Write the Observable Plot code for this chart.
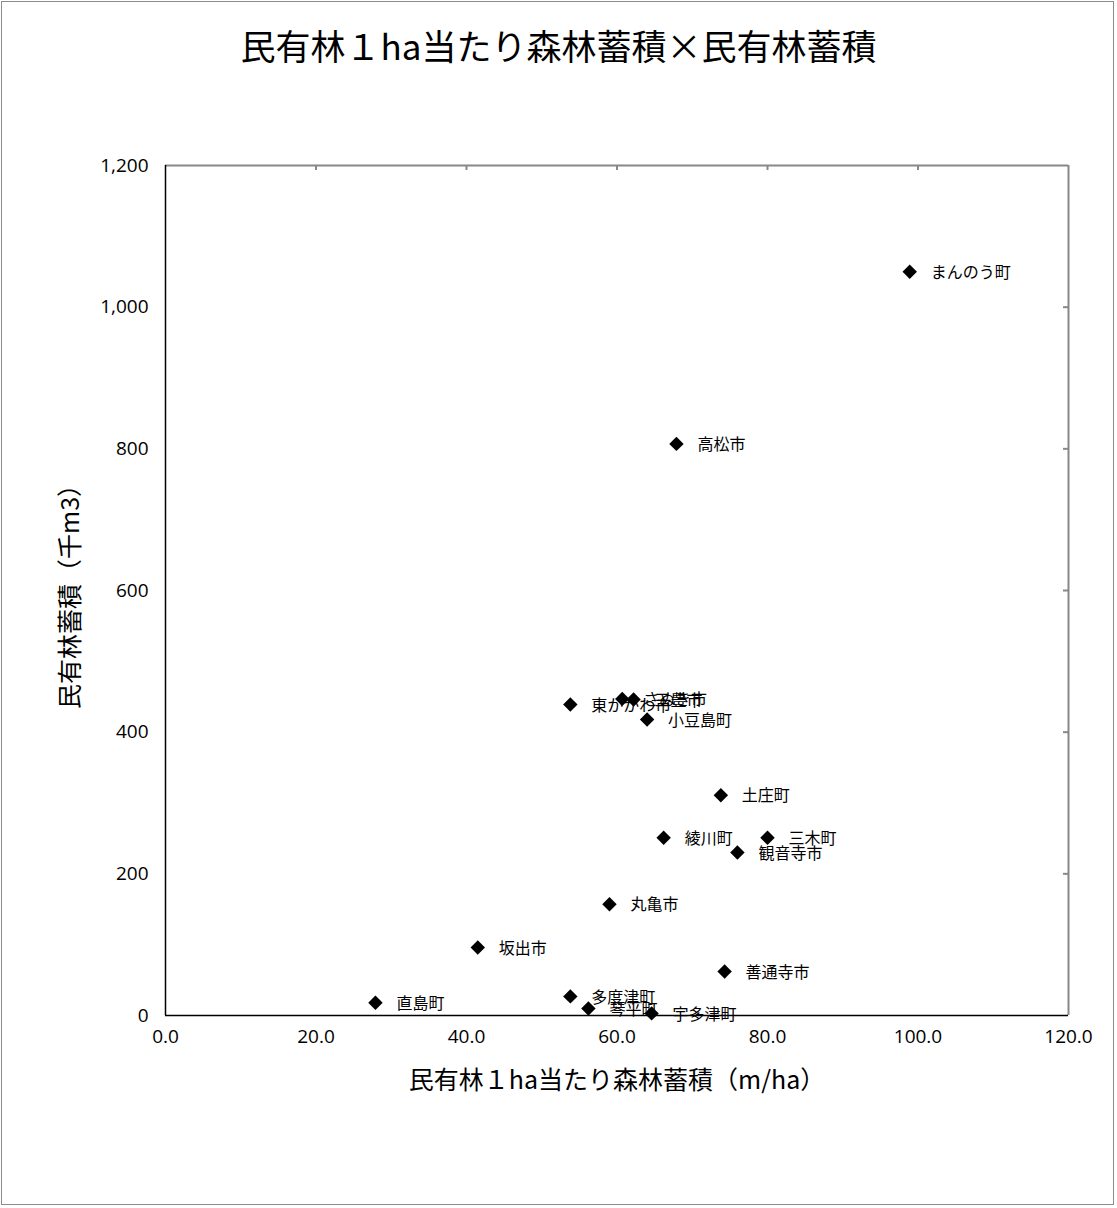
<!DOCTYPE html>
<html><head><meta charset="utf-8">
<script src="https://cdn.jsdelivr.net/npm/d3@7"></script>
<script src="https://cdn.jsdelivr.net/npm/@observablehq/plot@0.6"></script>
<style>
html,body{margin:0;padding:0;background:#fff;}
#wrap{position:relative;width:1117px;height:1208px;overflow:hidden;}
#frame{position:absolute;left:1px;top:1px;width:1113px;height:1204px;border:1px solid #8c8c8c;box-sizing:border-box;}
#title{position:absolute;top:19px;left:0;width:1117px;text-align:center;font-family:"Noto Sans CJK JP";font-size:35px;color:#000;z-index:2;}
#chart{position:absolute;left:0;top:0;}
</style>
</head><body>
<div id="wrap"><div id="frame"></div><div id="title">民有林１ha当たり森林蓄積×民有林蓄積</div><div id="chart"></div></div>
<script>
const names = ["まんのう町","高松市","東かがわ市","さぬき市","三豊市","小豆島町","土庄町","綾川町","三木町","観音寺市","丸亀市","坂出市","善通寺市","直島町","多度津町","琴平町","宇多津町"];
const perHa = [98.9, 67.9, 53.8, 60.7, 62.2, 64.0, 73.8, 66.2, 80.0, 76.0, 59.0, 41.5, 74.3, 27.9, 53.8, 56.2, 64.6];
const volume = [1050, 807, 439, 447, 446, 418, 311, 251, 251, 230, 157, 96, 62, 18, 27, 10, 3];
const xTicks = [0, 20, 40, 60, 80, 100, 120];
const yTicks = [0, 200, 400, 600, 800, 1000, 1200];
const xLabel = "民有林１ha当たり森林蓄積（m/ha）";
const yLabel = "民有林蓄積（千m3）";

const data = names.map((n, i) => ({name: n, x: perHa[i], y: volume[i]}));
const cjk = "Noto Sans CJK JP";
const num = "Open Sans";

const W = 1117, H = 1208, mL = 165, mR = 49, mT = 165, mB = 193;
const plotW = W - mL - mR, plotH = H - mT - mB;

const chart = Plot.plot({
  width: W, height: H,
  marginLeft: mL, marginRight: mR, marginTop: mT, marginBottom: mB,
  style: {background: "transparent", overflow: "visible", fontSize: "19px", fontFamily: num, color: "#000"},
  x: {domain: [0, 120]},
  y: {domain: [0, 1200]},
  marks: [
    Plot.ruleY([1200], {stroke: "#888", strokeWidth: 2}),
    Plot.ruleX([120], {stroke: "#888", strokeWidth: 2}),
    Plot.tickX(xTicks.slice(1, -1), {x: d => d, stroke: "#888", strokeWidth: 2, insetBottom: plotH - 5}),
    Plot.tickY(yTicks.slice(1, -1), {y: d => d, stroke: "#888", strokeWidth: 2, insetLeft: plotW - 5}),
    Plot.ruleY([0], {stroke: "#000", strokeWidth: 1.5}),
    Plot.ruleX([0], {stroke: "#000", strokeWidth: 1.5}),
    Plot.axisX({ticks: xTicks, tickFormat: d3.format(".1f"), tickSize: 0, tickPadding: 14, label: null, fill: "#000"}),
    Plot.axisY({ticks: yTicks, tickFormat: d3.format(","), tickSize: 0, tickPadding: 17, label: null, fill: "#000"}),
    Plot.text([xLabel], {frameAnchor: "bottom", textAnchor: "middle", lineAnchor: "middle", dy: 65, fontSize: 25, fontFamily: cjk, fill: "#000"}),
    Plot.text([yLabel], {frameAnchor: "left", textAnchor: "middle", lineAnchor: "middle", dx: -95, rotate: -90, fontSize: 25, fontFamily: cjk, fill: "#000"}),
    Plot.dot(data, {x: "x", y: "y", symbol: "diamond2", r: 6.5, fill: "#000", stroke: "none"}),
    Plot.text(data, {x: "x", y: "y", text: "name", textAnchor: "start", dx: 21, dy: 1, fontSize: 16, fontFamily: cjk, fill: "#000"})
  ]
});
document.getElementById("chart").appendChild(chart);
</script>
</body></html>
